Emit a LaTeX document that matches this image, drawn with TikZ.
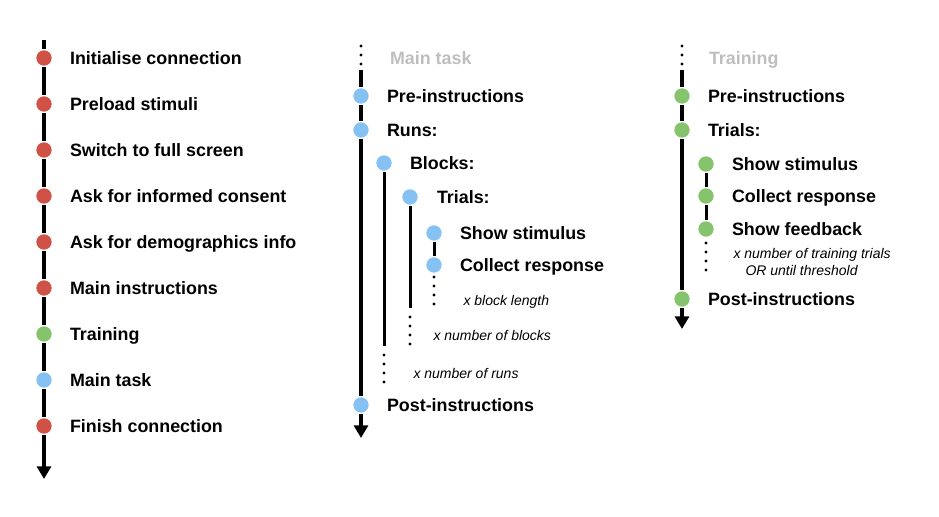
\documentclass[tikz,border=0pt]{standalone}
\usepackage{fontspec}
\setmainfont{Liberation Sans}
\usetikzlibrary{arrows.meta}

\definecolor{stagered}{RGB}{208,82,70}
\definecolor{stageblue}{RGB}{133,193,243}
\definecolor{stagegreen}{RGB}{133,196,109}
\definecolor{headgray}{RGB}{190,190,190}

\tikzset{every picture/.style={line width=2.25pt}}
\tikzset{
	stage/.style={circle,draw=none,inner sep=0pt,minimum size=11.5pt},
	redstage/.style={stage,fill=stagered},
	bluestage/.style={stage,fill=stageblue},
	greenstage/.style={stage,fill=stagegreen},
	itemtext/.style={anchor=west,inner sep=0pt,xshift=-1.1pt,text height=9.6pt,text depth=0pt,font=\bfseries\fontsize{13.4}{16}\selectfont},
	headtext/.style={itemtext,text=headgray},
	looptext/.style={anchor=west,inner sep=0pt,text height=7.6pt,text depth=0pt,font=\itshape\fontsize{10.5}{12.75}\selectfont},
	timeline/.style={line width=2.4pt,-{Triangle[width=10.5pt,length=9.5pt]}},
	repeatdots/.style={line width=2.4pt,line cap=round,dash pattern=on 0pt off 6.75pt}
}

\begin{document}
\begin{tikzpicture}[x=0.75pt,y=0.75pt,yscale=-1,xscale=1]
	\useasboundingbox (0,0) rectangle (939,517);

	%%%%%%%% Experiment timeline
	\coordinate (expTop) at (44,40);
	\coordinate (expEnd) at (44,479);
	\node[redstage] (init) at (44,58) {};
	\node[redstage] (preload) at (44,104) {};
	\node[redstage] (fullscreen) at (44,150) {};
	\node[redstage] (consent) at (44,196) {};
	\node[redstage] (demo) at (44,242) {};
	\node[redstage] (instr) at (44,288) {};
	\node[greenstage] (train) at (44,334) {};
	\node[bluestage] (task) at (44,380) {};
	\node[redstage] (finish) at (44,426) {};
	\draw[timeline] (expTop) -- (init) -- (preload) -- (fullscreen) -- (consent) -- (demo) -- (instr) -- (train) -- (task) -- (finish) -- (expEnd);

	% Text Node
	\node[itemtext] (initText) at (70,58) {Initialise connection};
	% Text Node
	\node[itemtext] (preloadText) at (70,104) {Preload stimuli};
	% Text Node
	\node[itemtext] (fullscreenText) at (70,150) {Switch to full screen};
	% Text Node
	\node[itemtext] (consentText) at (70,196) {Ask for informed consent};
	% Text Node
	\node[itemtext] (demoText) at (70,242) {Ask for demographics info};
	% Text Node
	\node[itemtext] (instrText) at (70,288) {Main instructions};
	% Text Node
	\node[itemtext] (trainText) at (70,334) {Training};
	% Text Node
	\node[itemtext] (taskText) at (70,380) {Main task};
	% Text Node
	\node[itemtext] (finishText) at (70,426) {Finish connection};

	%%%%%%%% Main task timeline
	\coordinate (taskDotsTop) at (361,46);
	\coordinate (taskDotsEnd) at (361,64.2);
	\coordinate (taskTop) at (361,70);
	\coordinate (taskEnd) at (361,438);
	\node[bluestage] (taskPre) at (361,96) {};
	\node[bluestage] (runs) at (361,130) {};
	\node[bluestage] (taskPost) at (361,405) {};
	\draw[repeatdots] (taskDotsTop) -- (taskDotsEnd);
	\draw[timeline] (taskTop) -- (taskPre) -- (runs) -- (taskPost) -- (taskEnd);

	% blocks
	\node[bluestage] (blocks) at (384,163) {};
	\coordinate (blocksEnd) at (384,346);
	\coordinate (runsDotsTop) at (384,355);
	\coordinate (runsDotsEnd) at (384,382.2);
	\draw (blocks) -- (blocksEnd);
	\draw[repeatdots] (runsDotsTop) -- (runsDotsEnd);

	% trials
	\node[bluestage] (trials) at (410,197) {};
	\coordinate (trialsEnd) at (410,308);
	\coordinate (blocksDotsTop) at (410,317);
	\coordinate (blocksDotsEnd) at (410,344.2);
	\draw (trials) -- (trialsEnd);
	\draw[repeatdots] (blocksDotsTop) -- (blocksDotsEnd);

	% single trial
	\node[bluestage] (stim) at (434,233) {};
	\node[bluestage] (resp) at (434,265) {};
	\coordinate (trialDotsTop) at (434,277);
	\coordinate (trialDotsEnd) at (434,304.2);
	\draw (stim) -- (resp);
	\draw[repeatdots] (trialDotsTop) -- (trialDotsEnd);

	% Text Node
	\node[headtext] (taskHead) at (390,58) {Main task};
	% Text Node
	\node[itemtext] (taskPreText) at (387,96) {Pre-instructions};
	% Text Node
	\node[itemtext] (runsText) at (387,130) {Runs:};
	% Text Node
	\node[itemtext] (blocksText) at (410,163) {Blocks:};
	% Text Node
	\node[itemtext] (trialsText) at (437,197) {Trials:};
	% Text Node
	\node[itemtext] (stimText) at (460,233) {Show stimulus};
	% Text Node
	\node[itemtext] (respText) at (460,265) {Collect response};
	% Text Node
	\node[looptext] (blockLen) at (462,300) {x block length};
	% Text Node
	\node[looptext] (blockNum) at (432,335) {x number of blocks};
	% Text Node
	\node[looptext] (runNum) at (412,373) {x number of runs};
	% Text Node
	\node[itemtext] (taskPostText) at (387,405) {Post-instructions};

	%%%%%%%% Training timeline
	\coordinate (trainDotsTop) at (682,46);
	\coordinate (trainDotsEnd) at (682,64.2);
	\coordinate (trainTop) at (682,70);
	\coordinate (trainEnd) at (682,329);
	\node[greenstage] (trainPre) at (682,96) {};
	\node[greenstage] (trainTrials) at (682,130) {};
	\node[greenstage] (trainPost) at (682,299) {};
	\draw[repeatdots] (trainDotsTop) -- (trainDotsEnd);
	\draw[timeline] (trainTop) -- (trainPre) -- (trainTrials) -- (trainPost) -- (trainEnd);

	% training trial
	\node[greenstage] (trainStim) at (706,164) {};
	\node[greenstage] (trainResp) at (706,196) {};
	\node[greenstage] (trainFb) at (706,229) {};
	\coordinate (trainLoopTop) at (706,243);
	\coordinate (trainLoopEnd) at (706,270.2);
	\draw (trainStim) -- (trainResp) -- (trainFb);
	\draw[repeatdots] (trainLoopTop) -- (trainLoopEnd);

	% Text Node
	\node[headtext] (trainHead) at (709,58) {Training};
	% Text Node
	\node[itemtext] (trainPreText) at (708,96) {Pre-instructions};
	% Text Node
	\node[itemtext] (trainTrialsText) at (708,130) {Trials:};
	% Text Node
	\node[itemtext] (trainStimText) at (732,164) {Show stimulus};
	% Text Node
	\node[itemtext] (trainRespText) at (732,196) {Collect response};
	% Text Node
	\node[itemtext] (trainFbText) at (732,229) {Show feedback};
	% Text Node
	\node[looptext,anchor=north west,text height=,text depth=,align=left] (trainNum) at (732,246.5) {x number of training trials\\\hspace*{9pt}OR until threshold};
	% Text Node
	\node[itemtext] (trainPostText) at (708,299) {Post-instructions};

\end{tikzpicture}
\end{document}
